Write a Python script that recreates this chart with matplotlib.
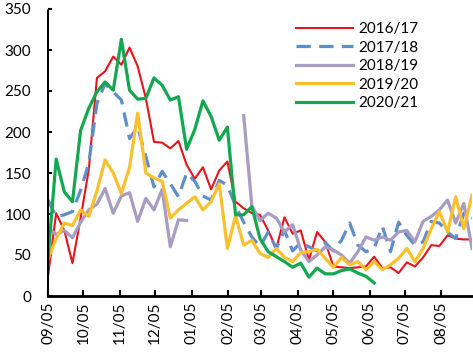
import matplotlib
matplotlib.use("Agg")
import matplotlib.pyplot as plt
import matplotlib.dates as mdates
import numpy as np
import pandas as pd

plt.rcParams['font.family'] = ['Lato', 'DejaVu Sans']

# 53 roughly weekly points, Sep 5 -> end of Aug
dates = pd.date_range('2016-09-05', '2017-08-31', periods=53)

s2016 = [24, 101, 80, 40, 95, 154, 266, 274, 292, 282,
         303, 280, 241, 188, 187, 180, 189, 160, 143, 157,
         130, 153, 164, 115, 107, 101, 99, 80, 58, 96,
         76, 80, 44, 78, 66, 36, 35, 34, 35, 36,
         48, 34, 35, 28, 41, 36, 47, 62, 61, 74,
         70, 69, 69]
s2017 = [117, 97, 99, 103, 129, 162, 235, 259, 249, 239,
         192, 206, 170, 133, 152, 137, 121, 150, 140, 122,
         117, 141, 135, 110, 90, 72, 60, 78, 58, 80,
         55, 65, 60, 55, 65, 55, 68, 89, 62, 54,
         58, 85, 54, 90, 74, 62, 66, 91, 89, 78,
         70, 101, 95]
s2018 = [83, 75, 80, 71, 90, 105, 112, 131, 101, 122,
         126, 91, 119, 105, 130, 60, 93, 92, None, None,
         None, None, None, None, 220, 110, 92, 101, 95, 78,
         87, 56, 42, 50, 60, 56, 50, 40, 54, 72,
         68, 72, 68, 78, 80, 66, 91, 97, 105, 117,
         89, 113, 58]
s2019 = [45, 70, 89, 86, 105, 97, 128, 166, 150, 125,
         157, 223, 150, 144, 140, 95, 105, 113, 121, 105,
         115, 137, 58, 98, 62, 68, 52, 47, 58, 47,
         42, 53, 54, 57, 46, 35, 47, 38, 42, 32,
         42, 32, 38, 46, 58, 42, 58, 82, 103, 78,
         121, 82, 123]
s2020 = [46, 167, 127, 115, 202, 229, 249, 261, 251, 313,
         251, 240, 241, 266, 257, 239, 243, 179, 203, 238,
         219, 190, 206, 99, 99, 109, 70, 54, 48, 42,
         35, 40, 23, 34, 27, 27, 31, 33, 28, 24,
         16]

labels = ['2016/17', '2017/18', '2018/19', '2019/20', '2020/21']
colors = ['#E8141B', '#5E8FCB', '#A89CC3', '#FBC02D', '#13A84F']


def as_array(vals):
    arr = np.full(len(dates), np.nan)
    arr[:len(vals)] = [np.nan if v is None else v for v in vals]
    return arr


fig = plt.figure(figsize=(4.73, 3.54), dpi=100)
ax = fig.add_axes([48 / 473, 58 / 354, 424 / 473, 287 / 354])

series = [s2016, s2017, s2018, s2019, s2020]
for vals, lab, col in zip(series, labels, colors):
    y = as_array(vals)
    if lab == '2016/17':
        ax.plot(dates, y, color=col, lw=1.5, label=lab)
    elif lab == '2017/18':
        ax.plot(dates, y, color=col, lw=2.3, dashes=(4.5, 2.6), label=lab)
    else:
        ax.plot(dates, y, color=col, lw=2.3, label=lab)

ax.set_xlim(dates[0], dates[-1])
ax.set_ylim(0, 350)
ax.set_yticks(np.arange(0, 351, 50))
ax.xaxis.set_major_locator(mdates.MonthLocator(bymonthday=5))
ax.xaxis.set_major_formatter(mdates.DateFormatter('%m/%d'))
plt.setp(ax.get_xticklabels(), rotation=90)

for side in ['top', 'right']:
    ax.spines[side].set_visible(False)
ax.spines['left'].set_linestyle((0, (1, 1)))
ax.spines['left'].set_linewidth(1.5)
ax.spines['bottom'].set_linewidth(2)
ax.tick_params(axis='y', direction='in', length=3, width=1.5, pad=12,
               labelsize=11)
ax.tick_params(axis='x', direction='in', length=4, width=1.5, pad=4,
               labelsize=11)

ax.legend(loc='upper left', bbox_to_anchor=(296 / 473, 1 - 22 / 354),
          bbox_transform=fig.transFigure, frameon=False, fontsize=11,
          handlelength=3.7, handletextpad=0.35, labelspacing=0.3,
          borderpad=0, borderaxespad=0)

fig.savefig('out.png', dpi=100)
